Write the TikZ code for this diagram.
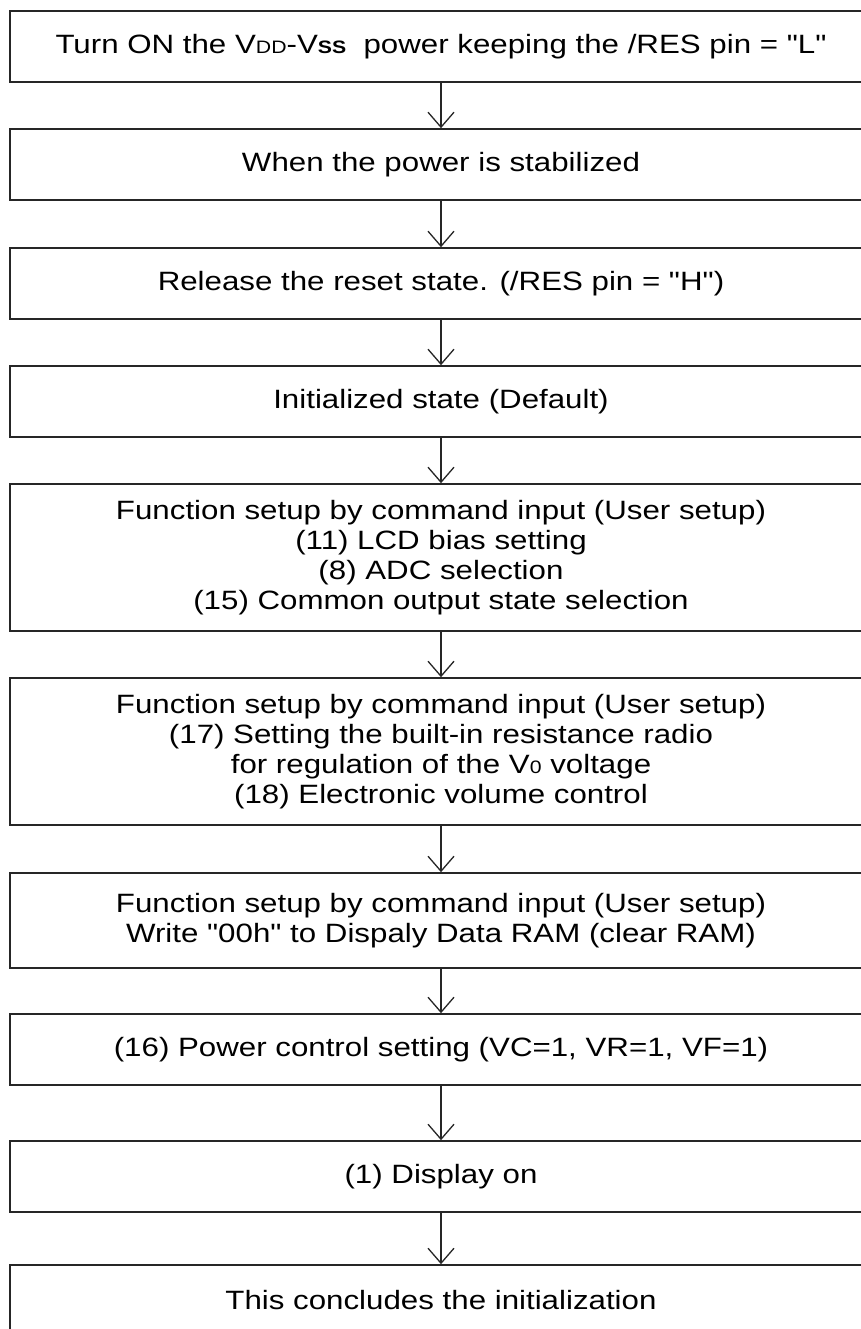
\documentclass[tikz,border=0pt]{standalone}
\usepackage{fontspec}
\setmainfont{Liberation Sans}[FakeStretch=1.18, Ligatures=TeXOff]
\usetikzlibrary{arrows.meta}
\newcommand{\smallsub}[1]{{\fontsize{18pt}{18pt}\selectfont #1}}
\begin{document}
\begin{tikzpicture}[x=1pt,y=1pt]
\tikzset{
  box/.style={draw=black!85, line width=1.6pt, minimum width=862pt, minimum height=71pt,
    align=center, inner sep=0pt, font=\fontsize{26.5pt}{30pt}\selectfont},
  flow/.style={draw=black!85, line width=1.3pt, -{Straight Barb[length=15pt,width=26pt]}}
}
\useasboundingbox (0,0) rectangle (861,-1329);
\fill[white] (0,0) rectangle (861,-1329);
\clip (0,0) rectangle (861,-1329);
\node[box] (b1) at (441,-46.5) {Turn ON the V\smallsub{DD}-V\smallsub{\bfseries SS}\ \ power keeping the /RES pin = "L"};
\node[box] (b2) at (441,-164.5) {When the power is stabilized};
\node[box] (b3) at (441,-283.5) {Release the reset state. (/RES pin = "H")};
\node[box] (b4) at (441,-401.5) {Initialized state (Default)};
\node[box, minimum height=147pt] (b5) at (441,-557.5) {Function setup by command input (User setup)\\(11) LCD bias setting\\(8) ADC selection\\(15) Common output state selection};
\node[box, minimum height=147pt] (b6) at (441,-751.5) {Function setup by command input (User setup)\\(17) Setting the built-in resistance radio\\for regulation of the V\smallsub{0} voltage\\(18) Electronic volume control};
\node[box, minimum height=95pt] (b7) at (441,-920.5) {Function setup by command input (User setup)\\Write "00h" to Dispaly Data RAM (clear RAM)};
\node[box] (b8) at (441,-1049.5) {(16) Power control setting (VC=1, VR=1, VF=1)};
\node[box] (b9) at (441,-1176.5) {(1) Display on};
\node[box] (b10) at (441,-1300.5) {This concludes the initialization};
\foreach \a/\b in {b1/b2,b2/b3,b3/b4,b4/b5,b5/b6,b6/b7,b7/b8,b8/b9,b9/b10}
  \draw[flow] (\a.south) -- (\b.north);
\end{tikzpicture}
\end{document}
